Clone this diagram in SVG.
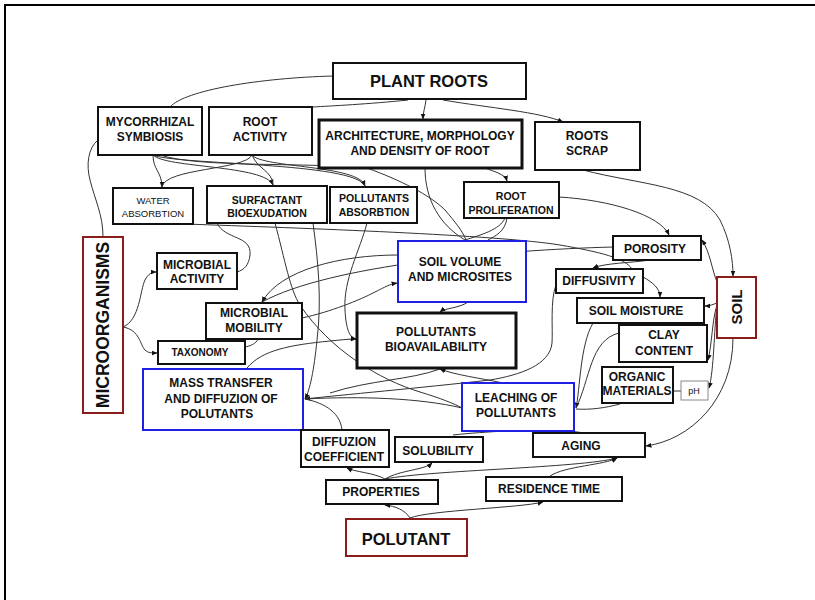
<svg xmlns="http://www.w3.org/2000/svg" width="815" height="600" viewBox="0 0 815 600">
<style>
.t{font-family:"Liberation Sans",Arial,sans-serif;font-weight:bold;font-size:12px;text-anchor:middle;fill:#111}
.s{font-size:10.5px}
.r{font-weight:normal;font-size:9.5px}
.big{font-size:16.5px}
.box{fill:#fff;stroke:#111;stroke-width:2}
.thick{stroke-width:3}
.blue{stroke:#1f1fe6}
.red{stroke:#8a1c1c}
.gray{stroke:#888;stroke-width:1}
.c{fill:none;stroke:#333;stroke-width:1}
.a{marker-end:url(#ar)}
</style>
<defs>
<marker id="ar" viewBox="0 0 10 10" refX="9" refY="5" markerWidth="6" markerHeight="6" orient="auto"><path d="M0,1 L10,5 L0,9z" fill="#111"/></marker>
</defs>
<rect x="5" y="5" width="900" height="700" fill="#fff" stroke="#000" stroke-width="2"/>
<g id="connectors">
<path class="c" d="M333,76 C260,78 185,90 170,107"/>
<path class="c" d="M408,100 C370,104 330,106 313,107"/>
<path class="c a" d="M426,100 C425,108 423,112 423,119"/>
<path class="c a" d="M443,100 C490,108 540,112 563,122"/>
<path class="c" d="M98,140 C88,148 86,165 90,180 C95,200 103,215 103,237"/>
<path class="c a" d="M153,155 C153,170 162,172 162,187"/>
<path class="c a" d="M153,155 C165,168 265,165 273,185"/>
<path class="c a" d="M153,155 C175,165 355,162 365,186"/>
<path class="c" d="M252,155 C245,170 165,168 162,187"/>
<path class="c" d="M252,155 C258,170 272,170 273,185"/>
<path class="c" d="M252,155 C262,168 360,165 365,186"/>
<path class="c" d="M160,155 C200,168 300,162 367,168"/>
<path class="c" d="M367,168 C400,180 430,195 445,210 C455,222 462,230 466,240"/>
<path class="c" d="M425,168 C425,200 440,225 465,240"/>
<path class="c a" d="M485,168 C495,172 505,174 507,181"/>
<path class="c" d="M505,218 C500,230 480,235 465,240"/>
<path class="c" d="M507,218 C505,232 495,236 488,240"/>
<path class="c a" d="M559,197 C610,200 660,215 669,235"/>
<path class="c a" d="M583,170 C640,185 700,185 720,220 C730,240 733,260 733,276"/>
<path class="c" d="M185,224 C300,228 500,235 560,245 C600,252 625,258 632,269"/>
<path class="c" d="M217,223 C225,240 252,235 250,255 C249,265 244,270 237,272"/>
<path class="c" d="M275,223 C285,260 290,290 300,305 C330,350 380,380 420,392 C440,398 455,404 462,408"/>
<path class="c a" d="M313,223 C318,260 322,300 317,340 C314,370 310,390 305,399"/>
<path class="c a" d="M367,223 C360,250 343,280 345,310 C346,330 350,338 356,339"/>
<path class="c a" d="M398,255 C340,255 280,270 262,302"/>
<path class="c" d="M613,247 C500,250 330,265 262,302"/>
<path class="c a" d="M302,318 C330,312 360,300 375,292 C385,287 390,284 397,283"/>
<path class="c a" d="M468,302 C460,308 445,308 440,312"/>
<path class="c a" d="M123,327 C140,320 140,290 145,280 C148,274 152,272 156,272"/>
<path class="c a" d="M123,327 C140,330 140,345 145,350 C148,353 152,353 157,353"/>
<path class="c" d="M258,339 C256,344 250,346 245,347"/>
<path class="c a" d="M247,368 C262,350 290,345 330,341 C340,340 348,339 356,339"/>
<path class="c a" d="M503,383 C480,378 455,375 440,369"/>
<path class="c" d="M330,393 C370,380 410,380 440,369"/>
<path class="c a" d="M556,285 C550,300 553,330 552,343 C550,365 520,375 490,380 C420,388 340,395 305,399"/>
<path class="c" d="M462,408 C420,398 360,396 305,399"/>
<path class="c" d="M342,430 C340,410 320,402 305,399"/>
<path class="c a" d="M650,260 C630,263 605,263 593,268"/>
<path class="c a" d="M643,277 C652,282 660,288 660,297"/>
<path class="c a" d="M717,282 C712,270 710,252 702,240"/>
<path class="c a" d="M717,303 C714,304 710,306 705,306"/>
<path class="c a" d="M717,305 C712,320 712,345 708,360"/>
<path class="c a" d="M717,305 C714,330 714,370 709,388"/>
<path class="c a" d="M733,338 C733,400 690,440 646,446"/>
<path class="c a" d="M593,323 C580,345 580,390 576,408"/>
<path class="c" d="M619,333 C590,340 590,380 576,408"/>
<path class="c" d="M620,404 C605,408 590,410 576,409"/>
<path class="c" d="M673,391 L681,391"/>
<path class="c a" d="M410,518 C405,510 395,506 385,505"/>
<path class="c a" d="M410,518 C430,510 520,508 543,502"/>
<path class="c a" d="M385,479 C375,473 355,472 347,468"/>
<path class="c a" d="M385,479 C400,470 425,470 432,463"/>
<path class="c a" d="M385,479 C430,470 580,468 617,458"/>
<path class="c a" d="M550,476 C565,466 605,465 617,458"/>
<path class="c" d="M453,435 C470,433 490,432 503,431"/>
<path class="c" d="M570,431 C575,432 580,432 583,433"/>
</g>
<g id="plant-roots"><rect class="box" x="333" y="63" width="193" height="36"/><text class="t big" x="429" y="87">PLANT ROOTS</text></g>
<g id="mycorrhizal"><rect class="box" x="98" y="107" width="104" height="48"/><text class="t" x="150" y="126">MYCORRHIZAL</text><text class="t" x="150" y="141">SYMBIOSIS</text></g>
<g id="root-activity"><rect class="box" x="209" y="107" width="103" height="48"/><text class="t" x="260" y="126">ROOT</text><text class="t" x="260" y="141">ACTIVITY</text></g>
<g id="architecture"><rect class="box thick" x="319" y="120" width="203" height="48"/><text class="t" x="420" y="140">ARCHITECTURE, MORPHOLOGY</text><text class="t" x="420" y="155">AND DENSITY OF ROOT</text></g>
<g id="roots-scrap"><rect class="box" x="535" y="122" width="105" height="48"/><text class="t" x="587" y="140">ROOTS</text><text class="t" x="587" y="155">SCRAP</text></g>
<g id="water-absorbtion"><rect class="box" x="113" y="188" width="80" height="36"/><text class="t r" x="153" y="204">WATER</text><text class="t r" x="153" y="217">ABSORBTION</text></g>
<g id="surfactant"><rect class="box" x="207" y="186" width="120" height="37"/><text class="t s" x="267" y="204">SURFACTANT</text><text class="t s" x="267" y="217">BIOEXUDATION</text></g>
<g id="pollutants-absorbtion"><rect class="box" x="330" y="187" width="87" height="36"/><text class="t s" x="374" y="202">POLLUTANTS</text><text class="t s" x="374" y="216">ABSORBTION</text></g>
<g id="root-proliferation"><rect class="box" x="464" y="182" width="95" height="36"/><text class="t s" x="511" y="200">ROOT</text><text class="t s" x="511" y="214">PROLIFERATION</text></g>
<g id="soil-volume"><rect class="box blue" x="398" y="241" width="128" height="61"/><text class="t" x="460" y="266">SOIL VOLUME</text><text class="t" x="460" y="281">AND MICROSITES</text></g>
<g id="porosity"><rect class="box" x="613" y="236" width="88" height="24"/><text class="t" x="655" y="253">POROSITY</text></g>
<g id="diffusivity"><rect class="box" x="556" y="269" width="87" height="24"/><text class="t" x="599" y="285">DIFFUSIVITY</text></g>
<g id="soil-moisture"><rect class="box" x="577" y="298" width="127" height="25"/><text class="t" x="636" y="315">SOIL MOISTURE</text></g>
<g id="soil"><rect class="box red" x="717" y="277" width="39" height="61"/><text class="t" style="font-size:15px" transform="translate(742,307) rotate(-90)" x="0" y="0">SOIL</text></g>
<g id="clay-content"><rect class="box" x="619" y="325" width="88" height="37"/><text class="t" x="664" y="339">CLAY</text><text class="t" x="664" y="355">CONTENT</text></g>
<g id="organic-materials"><rect class="box" x="602" y="367" width="71" height="36"/><text class="t" x="637" y="381">ORGANIC</text><text class="t" x="637" y="395">MATERIALS</text></g>
<g id="ph"><rect class="box gray" x="681" y="381" width="27" height="19"/><text class="t r" style="font-size:9px" x="694" y="394">pH</text></g>
<g id="leaching"><rect class="box blue" x="462" y="383" width="112" height="48"/><text class="t" x="516" y="402">LEACHING OF</text><text class="t" x="516" y="417">POLLUTANTS</text></g>
<g id="aging"><rect class="box" x="533" y="433" width="112" height="24"/><text class="t" x="581" y="450">AGING</text></g>
<g id="bioavailability"><rect class="box thick" x="357" y="313" width="159" height="55"/><text class="t" x="436" y="336">POLLUTANTS</text><text class="t" x="436" y="351">BIOAVAILABILITY</text></g>
<g id="microbial-activity"><rect class="box" x="157" y="253" width="80" height="36"/><text class="t" x="197" y="269">MICROBIAL</text><text class="t" x="197" y="283">ACTIVITY</text></g>
<g id="microbial-mobility"><rect class="box" x="206" y="303" width="96" height="36"/><text class="t" x="254" y="317">MICROBIAL</text><text class="t" x="254" y="332">MOBILITY</text></g>
<g id="taxonomy"><rect class="box" x="158" y="341" width="87" height="23"/><text class="t" style="font-size:10px" x="200" y="356">TAXONOMY</text></g>
<g id="mass-transfer"><rect class="box blue" x="143" y="369" width="160" height="61"/><text class="t" x="221" y="387">MASS TRANSFER</text><text class="t" x="221" y="403">AND DIFFUZION OF</text><text class="t" x="217" y="418">POLUTANTS</text></g>
<g id="microorganisms"><rect class="box red" x="83" y="237" width="40" height="176"/><text class="t" style="font-size:17.5px" transform="translate(109,325) rotate(-90)" x="0" y="0">MICROORGANISMS</text></g>
<g id="diffuzion-coefficient"><rect class="box" x="301" y="430" width="88" height="37"/><text class="t" x="344" y="446">DIFFUZION</text><text class="t" x="344" y="461">COEFFICIENT</text></g>
<g id="solubility"><rect class="box" x="395" y="437" width="88" height="25"/><text class="t" x="438" y="455">SOLUBILITY</text></g>
<g id="properties"><rect class="box" x="326" y="480" width="112" height="24"/><text class="t" x="381" y="496">PROPERTIES</text></g>
<g id="residence-time"><rect class="box" x="486" y="477" width="136" height="24"/><text class="t" x="549" y="493">RESIDENCE TIME</text></g>
<g id="polutant"><rect class="box red" x="346" y="519" width="121" height="37"/><text class="t big" x="406" y="545">POLUTANT</text></g>
</svg>
